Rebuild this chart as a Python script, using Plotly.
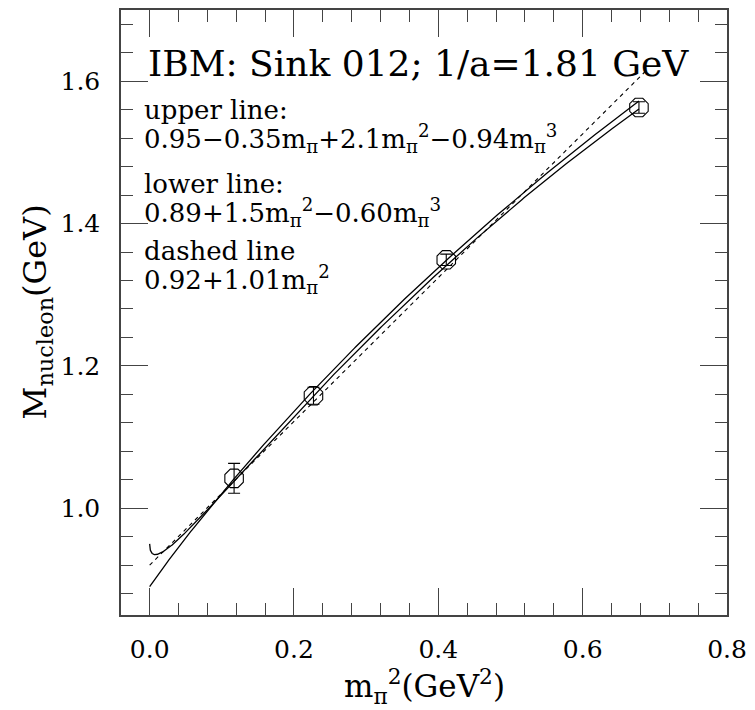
import numpy as np
import plotly.graph_objects as go

# ---- data ----
x_pts = [0.117, 0.227, 0.411, 0.678]          # m_pi^2 (GeV^2)
y_pts = [1.042, 1.158, 1.349, 1.563]          # M_nucleon (GeV)
y_err = [0.021, 0.012, 0.008, 0.008]

# fit coefficients printed on the chart (powers of m_pi: 0,1,2,3)
upper_coef = [0.95, -0.35, 2.1, -0.94]
lower_coef = [0.89, 0.0, 1.5, -0.60]
dashed_coef = [0.92, 0.0, 1.01]
solid_xmax = 0.678
dashed_xmax = 0.688

x_ticks = [0.0, 0.2, 0.4, 0.6, 0.8]
x_ticklabels = ["0.0", "0.2", "0.4", "0.6", "0.8"]
y_ticks = [1.0, 1.2, 1.4, 1.6]
y_ticklabels = ["1.0", "1.2", "1.4", "1.6"]

title_text = "IBM: Sink 012; 1/a=1.81 GeV"
notes = [
    "upper line:",
    "0.95\u22120.35m<sub>\u03c0</sub>+2.1m<sub>\u03c0</sub><sup>2</sup>\u22120.94m<sub>\u03c0</sub><sup>3</sup>",
    "lower line:",
    "0.89+1.5m<sub>\u03c0</sub><sup>2</sup>\u22120.60m<sub>\u03c0</sub><sup>3</sup>",
    "dashed line",
    "0.92+1.01m<sub>\u03c0</sub><sup>2</sup>",
]

# ---- curves from printed fits ----
mpi_s = np.linspace(0.0, np.sqrt(solid_xmax), 400)
mpi_d = np.linspace(0.0, np.sqrt(dashed_xmax), 400)


def poly(c, m):
    return sum(ci * m ** i for i, ci in enumerate(c))


FONT = "DejaVu Serif"
fig = go.Figure()
fig.add_trace(go.Scatter(x=mpi_s ** 2, y=poly(upper_coef, mpi_s), mode="lines",
                         line=dict(color="black", width=1.3), showlegend=False))
fig.add_trace(go.Scatter(x=mpi_s ** 2, y=poly(lower_coef, mpi_s), mode="lines",
                         line=dict(color="black", width=1.3), showlegend=False))
fig.add_trace(go.Scatter(x=mpi_d ** 2, y=poly(dashed_coef, mpi_d), mode="lines",
                         line=dict(color="black", width=1.1, dash="4px,4px"), showlegend=False))
fig.add_trace(go.Scatter(x=x_pts, y=y_pts, mode="markers",
                         marker=dict(symbol="octagon-open", size=20, color="black",
                                     line=dict(width=1.1, color="black")),
                         error_y=dict(type="data", array=y_err, color="black",
                                      thickness=1.1, width=6),
                         showlegend=False))

axis_common = dict(showgrid=False, zeroline=False, showline=True, mirror="ticks",
                   linecolor="#444", linewidth=1.5, ticks="inside", ticklen=27,
                   tickcolor="#444", tickwidth=1.2, ticklabeloverflow="allow",
                   tickfont=dict(family=FONT, size=25, color="black"))
fig.update_xaxes(range=[-0.0397, 0.8], tickvals=x_ticks, ticktext=x_ticklabels,
                 minor=dict(dtick=0.04, tick0=0, ticks="inside", ticklen=12,
                            tickcolor="#444", tickwidth=1.2),
                 ticklabelstandoff=11, **axis_common)
fig.update_yaxes(range=[0.85, 1.7], tickvals=y_ticks, ticktext=y_ticklabels,
                 minor=dict(dtick=0.04, tick0=0, ticks="inside", ticklen=12,
                            tickcolor="#444", tickwidth=1.2),
                 ticklabelstandoff=14, **axis_common)

L, R, T, B = 121, 18, 8, 95
W, H = 755, 710
pw, ph = W - L - R, H - T - B


def px2paper(px, py):
    return (px - L) / pw, (H - B - py) / ph


ann = []
tx, ty = px2paper(146, 62)
ann.append(dict(text=title_text, x=tx, y=ty, xref="paper", yref="paper",
                xanchor="left", yanchor="middle", showarrow=False,
                font=dict(family=FONT, size=36, color="black")))
note_y = [108, 137, 183, 211, 250, 278]
for t, py in zip(notes, note_y):
    nx, ny = px2paper(142, py)
    ann.append(dict(text=t, x=nx, y=ny, xref="paper", yref="paper",
                    xanchor="left", yanchor="middle", showarrow=False,
                    font=dict(family=FONT, size=26, color="black")))
ax, ay = px2paper(429, 687)
ann.append(dict(text="m<sub>\u03c0</sub><sup>2</sup>(GeV<sup>2</sup>)", x=ax, y=ay,
                xref="paper", yref="paper", xanchor="center", yanchor="middle",
                showarrow=False, font=dict(family=FONT, size=31, color="black")))
yx, yy = px2paper(36, 311)
ann.append(dict(text="M<sub>nucleon</sub>(GeV)", x=yx, y=yy, xref="paper", yref="paper",
                xanchor="center", yanchor="middle", textangle=-90, showarrow=False,
                font=dict(family=FONT, size=32, color="black")))

fig.update_layout(width=W, height=H, margin=dict(l=L, r=R, t=T, b=B),
                  paper_bgcolor="white", plot_bgcolor="white", annotations=ann)
fig.write_html("out.html")
